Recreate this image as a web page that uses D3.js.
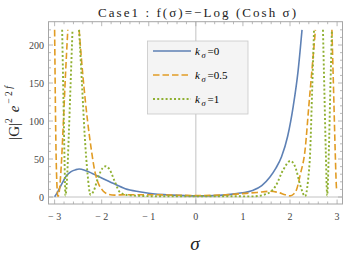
<!DOCTYPE html>
<meta charset="utf-8">
<style>
html, body { margin: 0; padding: 0; background: #fff; }
text { font-family: "Liberation Serif", "DejaVu Serif", serif; }
</style>
<body>
<script src="https://d3js.org/d3.v7.min.js"></script>
<script>

var width = 346,
    height = 259;

// data; null = curve is above the plot range (clipped)
var kValues = ["0", "0.5", "1"];

var sigmaK0 = [-3.0, -2.95, -2.85, -2.75, -2.65, -2.55, -2.48, -2.35, -2.2, -2.0, -1.76, -1.5, -1.2, -1.0, -0.5, 0, 0.5, 0.87, 1.22, 1.4, 1.57, 1.7, 1.82, 1.95, 2.07, 2.17, 2.255];
var valK0   = [0.3, 5, 17, 28, 33.5, 36, 36.8, 35, 31, 25, 18, 11, 7, 5, 2.5, 1.5, 2.2, 4.5, 9, 15, 26, 38, 53, 80, 120, 165, 220];

var sigmaK05 = [-3.0, -2.97, -2.95, -2.93, -2.9, -2.86, -2.82, -2.77, -2.72, -2.6, -2.48, -2.4, -2.3, -2.22, -2.15, -2.05, -1.97, -1.85, -1.72, -1.5, -1.0, -0.5, 0, 0.5, 1.0, 1.3, 1.57, 1.75, 1.9, 2.0, 2.08, 2.14, 2.22, 2.32, 2.4, 2.47, 2.54, 2.7, 2.89, 2.93, 2.96, 2.99, 3.0];
var valK05   = [220, 60, 15, 1, 8, 40, 90, 160, 220, null, 220, 160, 100, 62, 35, 15, 8, 3.5, 2.5, 3, 3, 2.5, 2, 2.5, 4.5, 6, 7.5, 6, 3, 1.5, 4, 10, 30, 62, 120, 170, 220, null, 220, 130, 60, 10, 8];

var sigmaK1 = [-2.84, -2.81, -2.79, -2.77, -2.74, -2.7, -2.66, -2.62, -2.55, -2.48, -2.42, -2.36, -2.3, -2.24, -2.17, -2.08, -1.98, -1.91, -1.83, -1.72, -1.62, -1.45, -1.2, -0.8, 0, 0.8, 1.2, 1.5, 1.7, 1.85, 2.01, 2.12, 2.22, 2.32, 2.38, 2.43, 2.47, 2.51, 2.6, 2.7, 2.73, 2.76, 2.79, 2.82, 2.86, 2.89];
var valK1   = [220, 120, 50, 2, 20, 80, 150, 220, null, 220, 150, 80, 30, 3, 8, 25, 38, 40.5, 36, 20, 7, 2.5, 1.5, 1, 1, 1, 0.8, 4, 15, 35, 47.5, 38, 15, 1, 20, 62, 140, 220, null, 220, 140, 60, 2, 50, 150, 220];

var xTicks = [-3, -2, -1, 0, 1, 2, 3];
var xTickLabels = ["\u2212 3", "\u2212 2", "\u2212 1", "0", "1", "2", "3"];
var yTicks = [0, 50, 100, 150, 200];

var colors = ["#5e81b5", "#e19c24", "#8fb032"];
var dashes = [null, "6.5,3", "2,2.2"];

var series = [
  { k: kValues[0], s: sigmaK0, v: valK0 },
  { k: kValues[1], s: sigmaK05, v: valK05 },
  { k: kValues[2], s: sigmaK1, v: valK1 }
];

var pLeft = 48.5, pRight = 342.5, pTop = 21.7, pBottom = 204;

var x = d3.scaleLinear().domain([-3.13, 3.115]).range([pLeft, pRight]);
var y = d3.scaleLinear().domain([-9.2, 230.7]).range([pBottom, pTop]);

var svg = d3.select("body").append("svg")
    .attr("width", width)
    .attr("height", height);

svg.append("defs").append("clipPath").attr("id", "clip")
  .append("rect")
    .attr("x", pLeft).attr("y", pTop)
    .attr("width", pRight - pLeft).attr("height", pBottom - pTop);

// frame
svg.append("rect")
    .attr("x", pLeft).attr("y", pTop)
    .attr("width", pRight - pLeft).attr("height", pBottom - pTop)
    .attr("fill", "none")
    .attr("stroke", "#a6a6a6")
    .attr("stroke-width", 1);

// axes through origin
svg.append("line")
    .attr("x1", x(0)).attr("x2", x(0))
    .attr("y1", pTop).attr("y2", pBottom)
    .attr("stroke", "#b3b3b3").attr("stroke-width", 0.8);
svg.append("line")
    .attr("x1", pLeft).attr("x2", pRight)
    .attr("y1", y(0)).attr("y2", y(0))
    .attr("stroke", "#b3b3b3").attr("stroke-width", 0.8);

// ticks on all four sides, pointing inward
var ticks = svg.append("g").attr("stroke", "#a6a6a6").attr("stroke-width", 0.8);
var xMinor = d3.range(-31, 32).map(function(d) { return d / 10; })
    .filter(function(d) { return Math.round(d * 10) % 2 === 0 && Math.round(d * 10) % 10 !== 0; });
var yMinor = d3.range(0, 230, 10).filter(function(d) { return d % 50 !== 0; });

xTicks.forEach(function(t) {
  ticks.append("line").attr("x1", x(t)).attr("x2", x(t)).attr("y1", pBottom).attr("y2", pBottom - 4.5);
  ticks.append("line").attr("x1", x(t)).attr("x2", x(t)).attr("y1", pTop).attr("y2", pTop + 4.5);
});
xMinor.forEach(function(t) {
  ticks.append("line").attr("x1", x(t)).attr("x2", x(t)).attr("y1", pBottom).attr("y2", pBottom - 2.5);
  ticks.append("line").attr("x1", x(t)).attr("x2", x(t)).attr("y1", pTop).attr("y2", pTop + 2.5);
});
yTicks.forEach(function(t) {
  ticks.append("line").attr("x1", pLeft).attr("x2", pLeft + 4.5).attr("y1", y(t)).attr("y2", y(t));
  ticks.append("line").attr("x1", pRight).attr("x2", pRight - 4.5).attr("y1", y(t)).attr("y2", y(t));
});
yMinor.forEach(function(t) {
  ticks.append("line").attr("x1", pLeft).attr("x2", pLeft + 2.5).attr("y1", y(t)).attr("y2", y(t));
  ticks.append("line").attr("x1", pRight).attr("x2", pRight - 2.5).attr("y1", y(t)).attr("y2", y(t));
});

// tick labels
svg.append("g").selectAll("text")
  .data(xTicks)
  .enter().append("text")
    .attr("x", function(d) { return x(d); })
    .attr("y", 220)
    .attr("text-anchor", "middle")
    .attr("font-size", 10)
    .attr("fill", "#444")
    .text(function(d, i) { return xTickLabels[i]; });

svg.append("g").selectAll("text")
  .data(yTicks)
  .enter().append("text")
    .attr("x", 44)
    .attr("y", function(d) { return y(d) + 3.5; })
    .attr("text-anchor", "end")
    .attr("font-size", 10)
    .attr("fill", "#444")
    .text(function(d) { return d; });

// curves
var line = d3.line()
    .defined(function(d) { return d[1] !== null; })
    .x(function(d) { return x(d[0]); })
    .y(function(d) { return y(d[1]); })
    .curve(d3.curveMonotoneX);

var plot = svg.append("g").attr("clip-path", "url(#clip)");
series.forEach(function(s, i) {
  var pts = s.s.map(function(d, j) { return [d, s.v[j]]; });
  plot.append("path")
      .datum(pts)
      .attr("fill", "none")
      .attr("stroke", colors[i])
      .attr("stroke-width", i === 2 ? 1.9 : 1.6)
      .attr("stroke-dasharray", dashes[i])
      .attr("d", line);
});

// legend
var lg = svg.append("g");
lg.append("rect")
    .attr("x", 147.5).attr("y", 41)
    .attr("width", 100.5).attr("height", 73)
    .attr("fill", "#f4f4f4")
    .attr("stroke", "#c8c8c8")
    .attr("stroke-width", 0.8);
series.forEach(function(s, i) {
  var ly = 51 + i * 24;
  lg.append("line")
      .attr("x1", 153).attr("x2", 191)
      .attr("y1", ly).attr("y2", ly)
      .attr("stroke", colors[i])
      .attr("stroke-width", i === 2 ? 1.9 : 1.6)
      .attr("stroke-dasharray", dashes[i]);
  var t = lg.append("text")
      .attr("x", 195).attr("y", ly + 3.5)
      .attr("font-size", 11);
  t.append("tspan").attr("font-style", "italic").text("k");
  t.append("tspan").attr("font-style", "italic").attr("font-size", 8.5).attr("dy", 3).attr("dx", 1.5).text("\u03c3");
  t.append("tspan").attr("dy", -3).attr("dx", 2).text("=" + s.k);
});

// title
svg.append("text")
    .attr("x", 197).attr("y", 17)
    .attr("text-anchor", "middle")
    .attr("font-size", 13)
    .attr("fill", "#222")
    .attr("textLength", 198)
    .attr("lengthAdjust", "spacing")
    .text("Case1 :  f(\u03c3)=\u2212Log (Cosh  \u03c3)");

// y label
var yl = svg.append("text")
    .attr("transform", "translate(19,113) rotate(-90)")
    .attr("text-anchor", "middle")
    .attr("font-size", 15)
    .attr("fill", "#222");
yl.append("tspan").text("|G|");
yl.append("tspan").attr("font-size", 9.5).attr("dy", -7).text("2");
yl.append("tspan").attr("dy", 7).attr("dx", 6).attr("font-style", "italic").text("e");
yl.append("tspan").attr("font-size", 9.5).attr("dy", -7).attr("dx", 2).text("\u2212 2 ");
yl.append("tspan").attr("font-size", 9.5).attr("font-style", "italic").text("f");

// x label
svg.append("text")
    .attr("x", 195).attr("y", 250)
    .attr("text-anchor", "middle")
    .attr("font-size", 19)
    .attr("font-style", "italic")
    .attr("fill", "#222")
    .text("\u03c3");

</script>
</body>
